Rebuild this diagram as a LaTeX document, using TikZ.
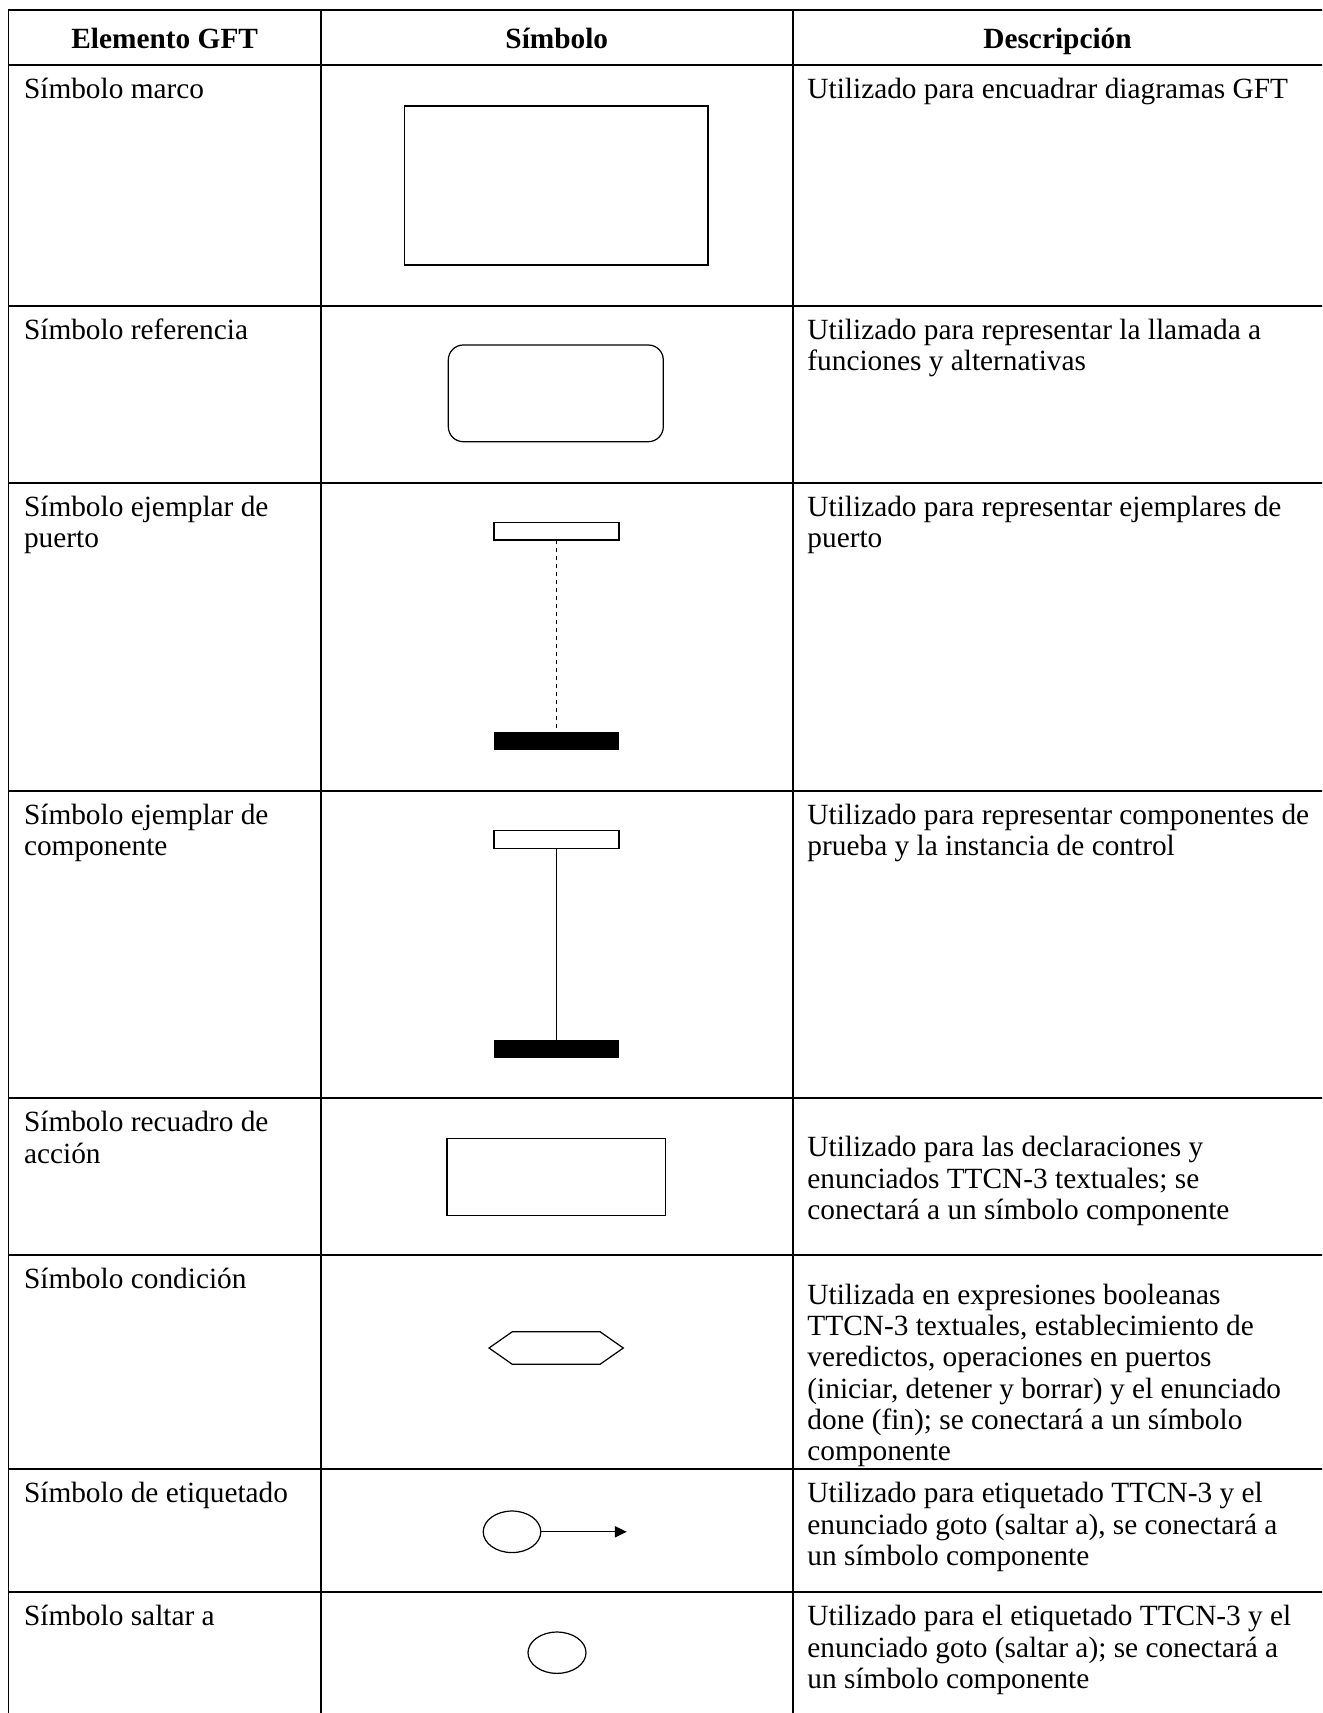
\documentclass[tikz,border=0pt]{standalone}
\usepackage{fontspec}
\setmainfont{Liberation Serif}
\usetikzlibrary{arrows.meta,shapes.geometric}
% text block whose baseline is that of its first line
\newcommand{\celltext}[1]{\begin{tabular}[t]{@{}l@{}}#1\end{tabular}}
\begin{document}
\begin{tikzpicture}[x=0.45pt,y=-0.45pt,
  grid/.style={line width=0.8pt},
  sym/.style={line width=0.55pt},
  cell/.style={anchor=base west,inner sep=0pt,font=\fontsize{13.2}{14.05}\selectfont},
  head/.style={anchor=base,inner sep=0pt,font=\fontsize{13.2}{14.05}\selectfont\bfseries},
  oval/.style={sym,draw,ellipse,inner sep=0pt}]
\useasboundingbox (0,0) rectangle (1322,1713);

% table rules
\begin{scope}
\clip (0,0) rectangle (1322,1713);
\foreach \xx in {8.4,321,792.6,1330}
  \draw[grid] (\xx,10) -- (\xx,1730);
\foreach \yy in {10,65,305.7,482.7,791,1098.3,1255,1469.3,1592.3,1730}
  \draw[grid] (8.4,\yy) -- (1340,\yy);
\end{scope}

% header
\node[head] (h1) at (164.7,49) {Elemento GFT};
\node[head] (h2) at (556.8,49) {Símbolo};
\node[head] (h3) at (1057.5,49) {Descripción};

% first column
\node[cell] (e1) at (23.6,98.5)   {\celltext{Símbolo marco}};
\node[cell] (e2) at (23.6,339.2)  {\celltext{Símbolo referencia}};
\node[cell] (e3) at (23.6,516.2)  {\celltext{Símbolo ejemplar de\\puerto}};
\node[cell] (e4) at (23.6,824.5)  {\celltext{Símbolo ejemplar de\\componente}};
\node[cell] (e5) at (23.6,1131.8) {\celltext{Símbolo recuadro de\\acción}};
\node[cell] (e6) at (23.6,1288.5) {\celltext{Símbolo condición}};
\node[cell] (e7) at (23.6,1502.8) {\celltext{Símbolo de etiquetado}};
\node[cell] (e8) at (23.6,1625.8) {\celltext{Símbolo saltar a}};

% third column
\node[cell] (d1) at (807,98.5)   {\celltext{Utilizado para encuadrar diagramas GFT}};
\node[cell] (d2) at (807,339.2)  {\celltext{Utilizado para representar la llamada a\\funciones y alternativas}};
\node[cell] (d3) at (807,516.2)  {\celltext{Utilizado para representar ejemplares de\\puerto}};
\node[cell] (d4) at (807,824.5)  {\celltext{Utilizado para representar componentes de\\prueba y la instancia de control}};
\node[cell] (d5) at (807,1156.8) {\celltext{Utilizado para las declaraciones y\\enunciados TTCN-3 textuales; se\\conectará a un símbolo componente}};
\node[cell] (d6) at (807,1304.5) {\celltext{Utilizada en expresiones booleanas\\TTCN-3 textuales, establecimiento de\\veredictos, operaciones en puertos\\(iniciar, detener y borrar) y el enunciado\\done (fin); se conectará a un símbolo\\componente}};
\node[cell] (d7) at (807,1502.8) {\celltext{Utilizado para etiquetado TTCN-3 y el\\enunciado goto (saltar a), se conectará a\\un símbolo componente}};
\node[cell] (d8) at (807,1625.8) {\celltext{Utilizado para el etiquetado TTCN-3 y el\\enunciado goto (saltar a); se conectará a\\un símbolo componente}};

% frame symbol
\draw[sym] (404.7,106) rectangle (708,265);

% reference symbol
\draw[sym,rounded corners=6.75pt] (448.3,345) rectangle (663.3,441.7);

% port instance symbol
\draw[sym] (494,522.7) rectangle (619,540);
\draw[sym,dash pattern=on 1.8pt off 1.8pt] (556.5,540) -- (556.5,732);
\fill (494,732) rectangle (619,750);

% component instance symbol
\draw[sym] (494,830.7) rectangle (619,848.3);
\draw[sym] (556.5,848.3) -- (556.5,1040);
\fill (494,1040) rectangle (619,1057.7);

% action box symbol
\draw[sym] (446.9,1138.3) rectangle (665.3,1215.3);

% condition symbol
\draw[sym] (489,1348) -- (512.3,1331.7) -- (600,1331.7) -- (623.3,1348)
  -- (600,1364.3) -- (512.3,1364.3) -- cycle;

% label symbol
\node[oval,minimum width=25.9pt,minimum height=18.7pt] (lab) at (512,1531.8) {};
\coordinate (labtip) at (626.7,1531.8);
\draw[sym,-{Triangle[length=5.3pt,width=5pt]}] (lab.east) -- (labtip);

% goto symbol
\node[oval,minimum width=26.1pt,minimum height=18.6pt] (jmp) at (557,1652.7) {};
\end{tikzpicture}
\end{document}
